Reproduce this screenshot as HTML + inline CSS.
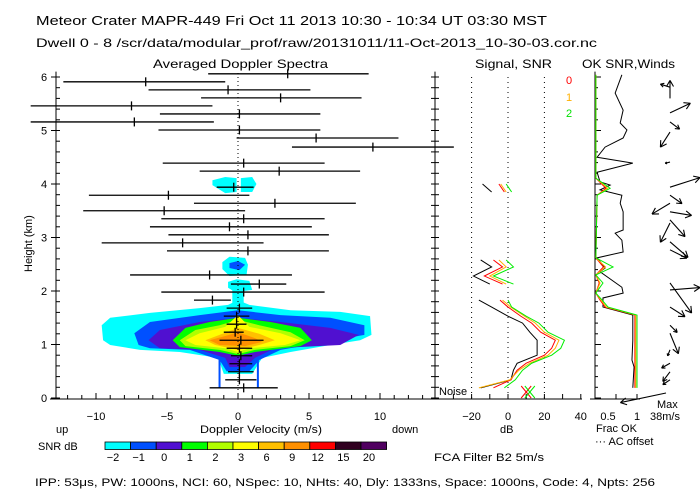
<!DOCTYPE html>
<html><head><meta charset="utf-8"><style>
html,body{margin:0;padding:0;background:#fff;}
svg{display:block;font-family:"Liberation Sans",sans-serif;}
</style></head><body>
<svg id="chart" width="700" height="500" viewBox="0 0 700 500">
<text x="36" y="25" font-size="13" textLength="511" lengthAdjust="spacingAndGlyphs">Meteor Crater   MAPR-449   Fri Oct 11 2013 10:30 - 10:34 UT 03:30 MST</text>
<text x="36" y="47" font-size="12" textLength="561" lengthAdjust="spacingAndGlyphs">Dwell   0  -   8    /scr/data/modular_prof/raw/20131011/11-Oct-2013_10-30-03.cor.nc</text>
<text x="153" y="68" font-size="12" textLength="175" lengthAdjust="spacingAndGlyphs">Averaged Doppler Spectra</text>
<text x="475" y="68" font-size="12" textLength="77" lengthAdjust="spacingAndGlyphs">Signal, SNR</text>
<text x="582" y="68" font-size="12" textLength="93" lengthAdjust="spacingAndGlyphs">OK SNR,Winds</text>
<text x="0" y="0" font-size="11" transform="translate(32,272) rotate(-90)">Height (km)</text>
<text x="200" y="433" font-size="11" textLength="122" lengthAdjust="spacingAndGlyphs">Doppler Velocity (m/s)</text>
<text x="56" y="433" font-size="11">up</text>
<text x="392" y="433" font-size="11">down</text>
<text x="500" y="433" font-size="11">dB</text>
<text x="596" y="432" font-size="11">Frac OK</text>
<text x="595" y="445" font-size="11">··· AC offset</text>
<text x="657" y="408" font-size="11">Max</text>
<text x="650" y="420" font-size="11">38m/s</text>
<text x="434" y="461" font-size="11" textLength="110" lengthAdjust="spacingAndGlyphs">FCA Filter B2   5m/s</text>
<text x="38" y="450" font-size="11">SNR dB</text>
<text x="439" y="395" font-size="11">Noise</text>
<text x="566" y="84" font-size="11" fill="#ff0000">0</text>
<text x="566" y="101" font-size="11" fill="#ffb000">1</text>
<text x="566" y="117" font-size="11" fill="#00e000">2</text>
<text x="35" y="486" font-size="11" textLength="620" lengthAdjust="spacingAndGlyphs">IPP:  53μs,  PW: 1000ns,  NCI:  60,  NSpec: 10, NHts: 40,  Dly: 1333ns,  Space: 1000ns,  Code: 4,  Npts: 256</text>
<g id="g"></g>
</svg>
<script>
// ---- data ----
const segH=[6.06,5.91,5.76,5.61,5.46,5.31,5.16,5.01,4.86,4.69,4.39,4.24,3.94,3.79,3.64,3.50,3.35,3.20,3.05,2.90,2.75,2.30,2.13,1.98,1.83,1.68,1.53,1.38,1.23,1.08,0.93,0.79,0.64,0.49,0.34,0.19];
const segC=[3.5,-6.5,-0.7,3.0,-7.5,0.1,-7.3,0.1,5.5,9.5,0.4,2.9,-0.3,-4.9,2.6,-5.2,0.4,-0.6,0.7,-3.9,0.7,-2.0,1.5,0.4,-1.8,0.1,-0.1,-0.1,-0.2,0.2,0.1,0.2,0.1,0.1,0.1,0.4];
const segL=[-2.1,-12.3,-6.3,-2.6,-14.6,-5.5,-14.6,-5.6,-0.1,3.8,-5.3,-2.7,-1.5,-10.5,-3.1,-10.9,-5.4,-6.2,-4.9,-9.6,-5.0,-7.6,-0.5,-5.4,-3.1,-0.8,-1.0,-0.8,-1.0,-1.3,-0.8,-0.5,-0.6,-0.7,-0.9,-2.0];
const segR=[9.2,-0.9,5.1,8.7,-1.8,5.8,-1.7,5.8,11.3,15.2,6.1,8.6,1.1,0.8,8.3,0.5,6.1,5.2,6.4,1.8,6.4,3.8,3.4,6.1,-0.5,1.0,0.8,0.6,0.4,1.8,1.0,1.0,1.0,1.1,1.3,2.8];
const levelColors=["#00ffff","#0050ff","#5010d0","#00ff00","#b0ff00","#ffff00","#ffc000","#ff9000","#ff0000","#300020","#500060"];
const levelLabels=["-2","-1","0","1","2","3","6","9","12","15","20"];
const cCyan=[[-9.6,1.36],[-9.0,1.5],[-6.2,1.59],[-2.7,1.68],[-0.7,1.74],[0,1.83],[0.8,1.74],[3.7,1.64],[7.2,1.61],[9.3,1.53],[9.4,1.18],[8.6,1.08],[6.5,0.99],[3.7,0.86],[1.7,0.75],[1.0,0.45],[-1.0,0.45],[-1.4,0.75],[-4.1,0.86],[-6.9,0.9],[-9.0,0.99],[-9.5,1.08]];
const cBlue=[[-7.3,1.21],[-6.2,1.42],[-2.7,1.55],[0,1.64],[3.0,1.55],[6.5,1.5],[8.9,1.36],[8.9,1.18],[5.8,1.03],[3.0,0.9],[1.5,0.71],[0.8,0.5],[-0.8,0.5],[-1.3,0.71],[-3.4,0.9],[-6.2,0.93],[-7.0,0.99]];
const cPurple=[[-6.3,1.08],[-5.5,1.27],[-2.7,1.42],[0,1.5],[3.0,1.42],[6.5,1.31],[8.5,1.18],[7.2,0.99],[2.6,0.93],[1.2,0.75],[0.5,0.58],[-0.6,0.58],[-0.9,0.75],[-2.7,0.9],[-5.5,0.93]];
const cGreen=[[-4.6,1.08],[-3.7,1.31],[-2.0,1.42],[0,1.5],[2.3,1.42],[4.4,1.31],[5.2,1.08],[4.4,0.97],[1.2,0.86],[0,0.79],[-1.3,0.86],[-4.1,0.95]];
const cYG=[[-4.1,1.08],[-3.0,1.27],[-1.3,1.36],[0,1.46],[1.5,1.36],[3.7,1.23],[4.7,1.08],[3.7,0.97],[1.2,0.9],[0,0.82],[-1.3,0.9],[-3.7,0.97]];
const cYellow=[[-3.7,1.08],[-2.7,1.21],[-0.9,1.33],[0,1.55],[0.8,1.33],[3.0,1.21],[4.4,1.08],[3.3,0.99],[0.8,0.93],[0,0.86],[-0.9,0.93],[-3.0,0.99]];
const cGold=[[-2.3,1.08],[-1.3,1.18],[0,1.31],[1.5,1.2],[2.6,1.08],[1.5,0.99],[0,0.9],[-1.6,0.99]];
const cOrange=[[-2.0,1.08],[-0.9,1.16],[0,1.23],[1.2,1.12],[1.7,1.05],[0.5,0.97],[-1.3,0.99]];
const cBlobA=[[-1.1,2.54],[-0.6,2.64],[0.5,2.62],[0.7,2.49],[0.6,2.30],[-0.6,2.28],[-1.1,2.41]];
const cBlobAin=[[-0.6,2.52],[0,2.56],[0.5,2.49],[0.1,2.39],[-0.6,2.43]];
const cBlobB=[[-0.7,2.17],[-0.1,2.22],[0.8,2.19],[1.0,2.02],[-0.2,1.98],[-0.7,2.06]];
const cStem=[[-0.4,2.02],[0.4,2.02],[0.4,1.74],[-0.4,1.74]];
const cBlob4L=[[-1.8,4.07],[-0.9,4.13],[-0.1,4.11],[-0.1,3.85],[-0.9,3.83],[-1.8,3.98]];
const cBlob4R=[[0.2,4.11],[1.0,4.13],[1.3,4.0],[1.0,3.85],[0.2,3.85]];
const legV=[-1.3,1.4];
// signal profiles
const sigLowH=[1.83,1.70,1.53,1.40,1.23,1.08,0.93,0.80,0.65,0.52,0.34,0.19];
const sigLowBlack=[-16,-9,0,8,12,16,16,16,5,3,1.6,-15];
const sigLowRed=[-4.4,0,7,13,18,26,24,20,10,5,1.6,-8];
const sigLowOrange=[-3,1.5,9,15,20,28,26,22,12,6,1,-16];
const sigLowGreen=[0,2,10,17,22,31,29,24,13,8,4,-2];
const sigMidH=[2.58,2.45,2.28,2.13];
const sigMidBlack=[-15,-9,-19,-10];
const sigMidRed=[-8,-3,-13,-3];
const sigMidOrange=[-5,-1,-10,-1];
const sigMidGreen=[-1,3,-8,3];
const sigTopH=[4.0,3.85];
const sigTopBlack=[-14,-9];
const sigTopRed=[-5,-2];
const sigTopOrange=[-4,-1];
const sigTopGreen=[-1,2];
const noiseDb=[10,12];
// frac ok / snr
const okH=[6.04,5.70,5.38,5.14,5.01,4.86,4.69,4.50,4.39,4.22,4.04,3.98,3.89,3.79,3.64,3.48,3.14,3.08,2.95,2.73,2.62,2.43,2.36,2.07,1.96,1.87,1.70,1.55,1.08,0.71,0.58,0.19];
const okBlack=[0.64,0.48,0.67,0.6,0.76,0.67,0.24,0.05,0.9,0.05,0.12,0.36,0.12,0.64,0.6,0.67,0.67,0.48,0.64,0.67,0.05,0.24,0.12,0.64,0.67,0.19,0.19,0.9,0.9,0.88,0.93,0.9];
const fracH=[6.04,4.11,3.92,3.79,2.62,2.45,2.30,2.15,1.96,1.83,1.70,1.55,0.19];
const fracGreen=[0.02,0.02,0.36,0.05,0.02,0.43,0.02,0.19,0.02,0.17,0.31,1.0,1.0];
const fracRed=[0.02,0.02,0.26,0.05,0.02,0.2,0.02,0.1,0.02,0.12,0.24,0.95,0.95];
const fracOrange=[0.02,0.02,0.3,0.05,0.02,0.25,0.02,0.12,0.02,0.14,0.27,0.97,0.97];
// winds
const windH=[5.81,5.6,5.33,5.16,4.97,4.41,3.94,3.79,3.64,3.48,3.33,3.27,2.92,2.77,2.15,2.02,1.70,1.36,1.21,0.9,0.65,0.49,0.34];
const windU=[-8,0,17,8,-8,-4,25,10,-15,18,12.5,-8,15,14,18,25,12.5,6,7,-2,-7,-6,-6];
const windV=[2.5,15,8,-6,-12.5,-1,8,-7,-9,-3,-14,-16,-13,-7,-25,2,-8,-6,-17,-5,-4,-8,-4];
const maxWind=[-38,-8];

// ---- axes ----
const X=v=>238+14.2*v, Y=h=>398-53.5*h, SX=d=>508+1.82*d, FX=f=>595+42*f;
const NS="http://www.w3.org/2000/svg", g=document.getElementById('g');
function mk(t,a,p){const e=document.createElementNS(NS,t);for(const k in a)e.setAttribute(k,a[k]);(p||g).appendChild(e);return e;}
function line(x1,y1,x2,y2,c,w,d){const e=mk('line',{x1,y1,x2,y2,stroke:c||'#000','stroke-width':w||1});if(d)e.setAttribute('stroke-dasharray',d);return e;}
function poly(pts,fill){return mk('polygon',{points:pts.map(p=>X(p[0])+','+Y(p[1])).join(' '),fill:fill});}
function pl(xs,hs,fx,c){return mk('polyline',{points:xs.map((v,i)=>fx(v)+','+Y(hs[i])).join(' '),fill:'none',stroke:c,'stroke-width':1});}

// contours
[[cCyan,0],[cBlue,1],[cPurple,2],[cGreen,3],[cYG,4],[cYellow,5],[cGold,6],[cOrange,7],[cBlobA,0],[cBlobAin,1],[cBlobB,0],[cStem,0],[cBlob4L,0],[cBlob4R,0]].forEach(([p,l],i)=>{
  const e=poly(p,levelColors[l]);
  
  
});
legV.forEach(v=>{
  const l=line(X(v),Y(0.75),X(v),Y(0.19),'#0050ff',2);
  
  
});
// zero velocity dotted
let e=line(X(0),Y(0),X(0),Y(6.1),'#000',1,'1,3');


// spectra segments
segH.forEach((h,i)=>{
  const s=mk('g',{});
  
  
  s.appendChild(line(X(segL[i]),Y(h),X(segR[i]),Y(h),'#000',1.3));
  s.appendChild(line(X(segC[i]),Y(h)-4.5,X(segC[i]),Y(h)+4.5,'#000',1.3));
});
// spectra frame
e=line(56,Y(0),56,Y(6.1));
e=line(50,399,435,399);
e=line(435,Y(0)+1,435,Y(6.1));
for(let k=0;k<=30;k++){const h=k*0.2,y=Y(h);line(56,y,60,y);line(431,y,439,y);}
for(let k=0;k<=6;k++){const y=Y(k);line(51,y,56,y);const t=mk('text',{x:41,y:y+4,'font-size':11});t.textContent=k;}
for(let v=-12;v<=13;v++){line(X(v),399,X(v),v%5==0?393:395);}
[-10,-5,0,5,10].forEach(v=>{const t=mk('text',{x:X(v),y:420,'font-size':11,'text-anchor':'middle'});t.textContent=v==0?'0':(v<0?'−'+(-v):v);});
// colorbar
levelColors.forEach((c,i)=>{
  const r=mk('rect',{x:105+i*25.6,y:442,width:25.6,height:7.5,fill:c,stroke:'#000','stroke-width':0.8});
  
  
  const t=mk('text',{x:105+i*25.6+8,y:461,'font-size':11,'text-anchor':'middle'});t.textContent=levelLabels[i].replace('-','−');
  
  
});
// signal panel
e=line(435,399,582,399);
[-20,0,20].forEach(d=>{const l=line(SX(d),Y(0),SX(d),Y(6.05),'#000',1,'1,4');});
for(let d=-30;d<=40;d+=10)line(SX(d),399,SX(d),394);
[-20,0,20,40].forEach(d=>{const t=mk('text',{x:SX(d),y:420,'font-size':11,'text-anchor':'middle'});t.textContent=d<0?'−'+(-d):d;});
[[sigLowH,sigLowBlack,sigLowRed,sigLowOrange,sigLowGreen],[sigMidH,sigMidBlack,sigMidRed,sigMidOrange,sigMidGreen],[sigTopH,sigTopBlack,sigTopRed,sigTopOrange,sigTopGreen]].forEach(s=>{
  [['#000',s[1]],['#ff0000',s[2]],['#ffb000',s[3]],['#00ee00',s[4]]].forEach(([c,d])=>{
    const p=pl(d,s[0],SX,c);
    
    
  });
});
noiseDb.forEach((d,i)=>{const c=i?'#00ee00':'#ff0000';const x=SX(d),y=392;line(x-5,y-6,x+5,y+6,c);line(x+5,y-6,x-5,y+6,c);});
// winds panel
e=line(595,Y(0)+1,595,Y(6.1));
e=line(590,399,640,399);
for(let k=0;k<=30;k++){const y=Y(k*0.2);line(595,y,k%5==0?601:598,y);}
[0.5,1].forEach(f=>{line(FX(f),399,FX(f),394);const t=mk('text',{x:FX(f)-(f==1?0:8),y:420,'font-size':11,'text-anchor':'middle'});t.textContent=f;});
[[okBlack,okH,'#000'],[fracRed,fracH,'#ff0000'],[fracOrange,fracH,'#ffb000'],[fracGreen,fracH,'#00ee00']].forEach(([d,h,c])=>{
  const p=pl(d,h,FX,c);
  
  
});
function arrow(x,y,u,v,name){
  const dx=u*1.2,dy=-v*1.2,x2=x+dx,y2=y+dy,L=Math.hypot(dx,dy)||1,ux=dx/L,uy=dy/L;
  const a=mk('g',{});
  
  
  a.appendChild(line(x,y,x2,y2,'#000',1.1));
  const hl=Math.min(7,L*0.4);
  a.appendChild(line(x2,y2,x2-hl*(ux*0.87-uy*0.5),y2-hl*(uy*0.87+ux*0.5),'#000',1.1));
  a.appendChild(line(x2,y2,x2-hl*(ux*0.87+uy*0.5),y2-hl*(uy*0.87-ux*0.5),'#000',1.1));
}
windH.forEach((h,i)=>arrow(670,Y(h),windU[i],windV[i],'wind-arrow'));
arrow(666,393,maxWind[0],maxWind[1],'max-wind-arrow');
</script>
</body></html>
